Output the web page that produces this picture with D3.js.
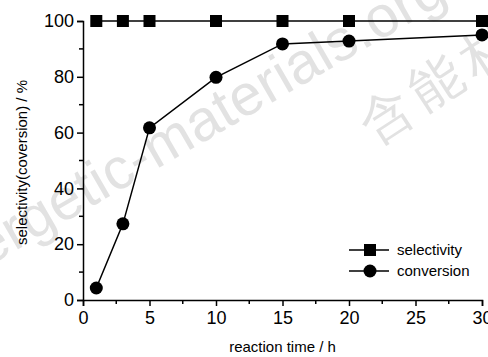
<!DOCTYPE html>
<html>
<head>
<meta charset="utf-8">
<script src="https://cdn.jsdelivr.net/npm/d3@7"></script>
<style>
  body { margin: 0; background: #fff; }
  text { font-family: "Liberation Sans", Arial, sans-serif; }
</style>
</head>
<body>
<div class="chart"></div>
<script>
// reaction time (h)
const times = [1, 3, 5, 10, 15, 20, 30];
const selectivity = [100, 100, 100, 100, 100, 100, 100];
const conversion = [4.3, 27.3, 61.7, 79.8, 91.8, 92.8, 95];
const xTicks = [0, 5, 10, 15, 20, 25, 30];
const yTicks = [0, 20, 40, 60, 80, 100];
const seriesNames = ['selectivity', 'conversion'];

const width = 488, height = 357;
const margin = { top: 21, right: 6, bottom: 57, left: 83 };

const svg = d3.select('.chart').append('svg')
  .attr('width', width).attr('height', height);

// faint watermark
const wm = svg.append('g').attr('fill', '#e2e2e2');
wm.append('text')
  .attr('transform', 'translate(-70,300) rotate(-30)')
  .attr('font-family', 'Roboto, sans-serif')
  .attr('font-size', 58)
  .attr('textLength', 600)
  .attr('lengthAdjust', 'spacing')
  .text('energetic-materials.org');
wm.append('text')
  .attr('transform', 'translate(374,145) rotate(-33)')
  .attr('font-family', 'Noto Sans CJK SC, sans-serif')
  .attr('font-size', 52)
  .attr('letter-spacing', 8)
  .text('含能材料');

const x = d3.scaleLinear().domain([0, 30]).range([margin.left, width - margin.right]);
const y = d3.scaleLinear().domain([0, 100]).range([height - margin.bottom, margin.top]);

const xAxis = d3.axisBottom(x).tickValues(xTicks).tickSize(6).tickPadding(5);
const yAxis = d3.axisLeft(y).tickValues(yTicks).tickSize(6).tickPadding(3);

const gx = svg.append('g')
  .attr('transform', 'translate(0,' + y(0) + ')')
  .call(xAxis);
const gy = svg.append('g')
  .attr('transform', 'translate(' + x(0) + ',0)')
  .call(yAxis);

// minor ticks
gx.selectAll('.minor').data(d3.range(2.5, 30, 5)).enter().append('line')
  .attr('x1', d => x(d)).attr('x2', d => x(d))
  .attr('y1', 0).attr('y2', 4).attr('stroke', '#000').attr('stroke-width', 1.5);
gy.selectAll('.minor').data(d3.range(10, 100, 20)).enter().append('line')
  .attr('y1', d => y(d)).attr('y2', d => y(d))
  .attr('x1', 0).attr('x2', -4).attr('stroke', '#000').attr('stroke-width', 1.5);

[gx, gy].forEach(g => {
  g.select('.domain').attr('stroke-width', 1.5);
  g.selectAll('.tick line').attr('stroke-width', 1.5);
  g.selectAll('.tick text').attr('font-size', 18)
    .attr('font-family', '"Liberation Sans", Arial, sans-serif')
    .attr('fill', '#000');
});

// axis titles
svg.append('text')
  .attr('x', (x(0) + x(30)) / 2).attr('y', 352)
  .attr('text-anchor', 'middle').attr('font-size', 15)
  .text('reaction time / h');
svg.append('text')
  .attr('transform', 'translate(27,' + (y(50) + 2) + ') rotate(-90)')
  .attr('text-anchor', 'middle').attr('font-size', 15)
  .text('selectivity(coversion) / %');

const line = d3.line().x(d => x(d[0])).y(d => y(d[1]));
const selData = times.map((t, i) => [t, selectivity[i]]);
const convData = times.map((t, i) => [t, conversion[i]]);

svg.append('path').datum(selData)
  .attr('fill', 'none').attr('stroke', '#000').attr('stroke-width', 1.5)
  .attr('d', line);
svg.append('path').datum(convData)
  .attr('fill', 'none').attr('stroke', '#000').attr('stroke-width', 1.5)
  .attr('d', line);

const sq = 12;
svg.selectAll('.sq').data(selData).enter().append('rect')
  .attr('x', d => x(d[0]) - sq / 2).attr('y', d => y(d[1]) - sq / 2)
  .attr('width', sq).attr('height', sq).attr('fill', '#000');
svg.selectAll('.ci').data(convData).enter().append('circle')
  .attr('cx', d => x(d[0])).attr('cy', d => y(d[1]))
  .attr('r', 6.5).attr('fill', '#000');

// legend
const legend = svg.append('g');
seriesNames.forEach((name, i) => {
  const ly = 250 + i * 21;
  legend.append('line').attr('x1', 349).attr('x2', 389)
    .attr('y1', ly).attr('y2', ly).attr('stroke', '#000').attr('stroke-width', 1.5);
  if (i === 0) {
    legend.append('rect').attr('x', 370 - sq / 2).attr('y', ly - sq / 2)
      .attr('width', sq).attr('height', sq).attr('fill', '#000');
  } else {
    legend.append('circle').attr('cx', 370).attr('cy', ly).attr('r', 6.5).attr('fill', '#000');
  }
  legend.append('text').attr('x', 397).attr('y', ly + 5)
    .attr('font-size', 15).text(name);
});
</script>
</body>
</html>
